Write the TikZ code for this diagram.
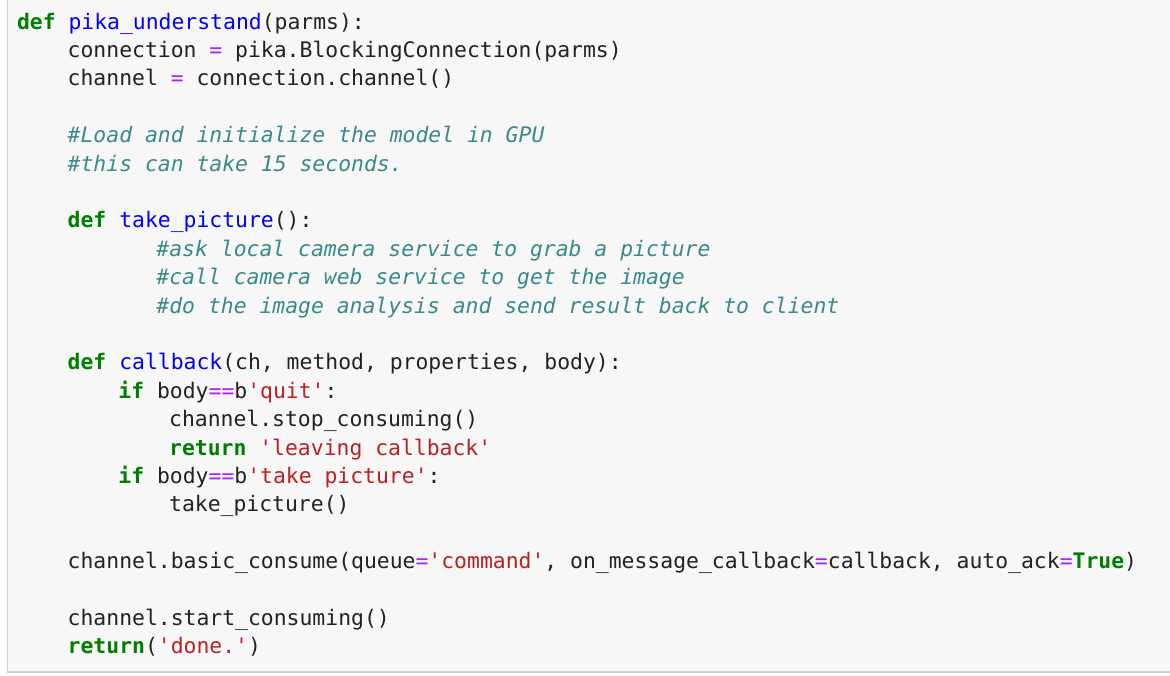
\documentclass[tikz,border=0pt]{standalone}
\usepackage{fontspec}
\newfontfamily\codefont{DejaVu Sans Mono}
\definecolor{cbg}{HTML}{F7F7F7}
\definecolor{cborder}{HTML}{CFCFCF}
\definecolor{ctext}{HTML}{222222}
\definecolor{ckw}{HTML}{008000}
\definecolor{cfn}{HTML}{0000FF}
\definecolor{cop}{HTML}{AA22FF}
\definecolor{cstr}{HTML}{BA2121}
\definecolor{ccm}{HTML}{3A8A8A}
\newcommand\kw[1]{{\bfseries\color{ckw}#1}}
\newcommand\fn[1]{{\color{cfn}#1}}
\newcommand\op[1]{{\color{cop}#1}}
\newcommand\strg[1]{{\color{cstr}#1}}
\newcommand\cm[1]{{\itshape\color{ccm}#1}}
\tikzset{codeline/.style={anchor=base west, inner sep=0pt, outer sep=0pt, text=ctext, font=\codefont\fontsize{21.4}{25}\selectfont}}
\begin{document}
\begin{tikzpicture}[x=1pt,y=-1pt]
\useasboundingbox (0,0) rectangle (1170,675);
\fill[white] (0,0) rectangle (1170,675);
\fill[cbg] (7.5,0) rectangle (1170,672);
\draw[cborder, line width=1.2pt] (7.5,0) -- (7.5,672) -- (1170,672);
\def\lh{28.4}
\def\cw{12.68}
\node[codeline] (l1) at (17+0*\cw, 29+0*\lh) {\kw{def} \fn{pika\_understand}(parms):};
\node[codeline] (l2) at (17+4*\cw, 29+1*\lh) {connection \op{=} pika.BlockingConnection(parms)};
\node[codeline] (l3) at (17+4*\cw, 29+2*\lh) {channel \op{=} connection.channel()};
\node[codeline] (l5) at (17+4*\cw, 29+4*\lh) {\cm{\#Load and initialize the model in GPU}};
\node[codeline] (l6) at (17+4*\cw, 29+5*\lh) {\cm{\#this can take 15 seconds.}};
\node[codeline] (l8) at (17+4*\cw, 29+7*\lh) {\kw{def} \fn{take\_picture}():};
\node[codeline] (l9) at (17+11*\cw, 29+8*\lh) {\cm{\#ask local camera service to grab a picture}};
\node[codeline] (l10) at (17+11*\cw, 29+9*\lh) {\cm{\#call camera web service to get the image}};
\node[codeline] (l11) at (17+11*\cw, 29+10*\lh) {\cm{\#do the image analysis and send result back to client}};
\node[codeline] (l13) at (17+4*\cw, 29+12*\lh) {\kw{def} \fn{callback}(ch, method, properties, body):};
\node[codeline] (l14) at (17+8*\cw, 29+13*\lh) {\kw{if} body\op{==}b\strg{'quit'}:};
\node[codeline] (l15) at (17+12*\cw, 29+14*\lh) {channel.stop\_consuming()};
\node[codeline] (l16) at (17+12*\cw, 29+15*\lh) {\kw{return} \strg{'leaving callback'}};
\node[codeline] (l17) at (17+8*\cw, 29+16*\lh) {\kw{if} body\op{==}b\strg{'take picture'}:};
\node[codeline] (l18) at (17+12*\cw, 29+17*\lh) {take\_picture()};
\node[codeline] (l20) at (17+4*\cw, 29+19*\lh) {channel.basic\_consume(queue\op{=}\strg{'command'}, on\_message\_callback\op{=}callback, auto\_ack\op{=}\kw{True})};
\node[codeline] (l22) at (17+4*\cw, 29+21*\lh) {channel.start\_consuming()};
\node[codeline] (l23) at (17+4*\cw, 29+22*\lh) {\kw{return}(\strg{'done.'})};
\end{tikzpicture}
\end{document}
